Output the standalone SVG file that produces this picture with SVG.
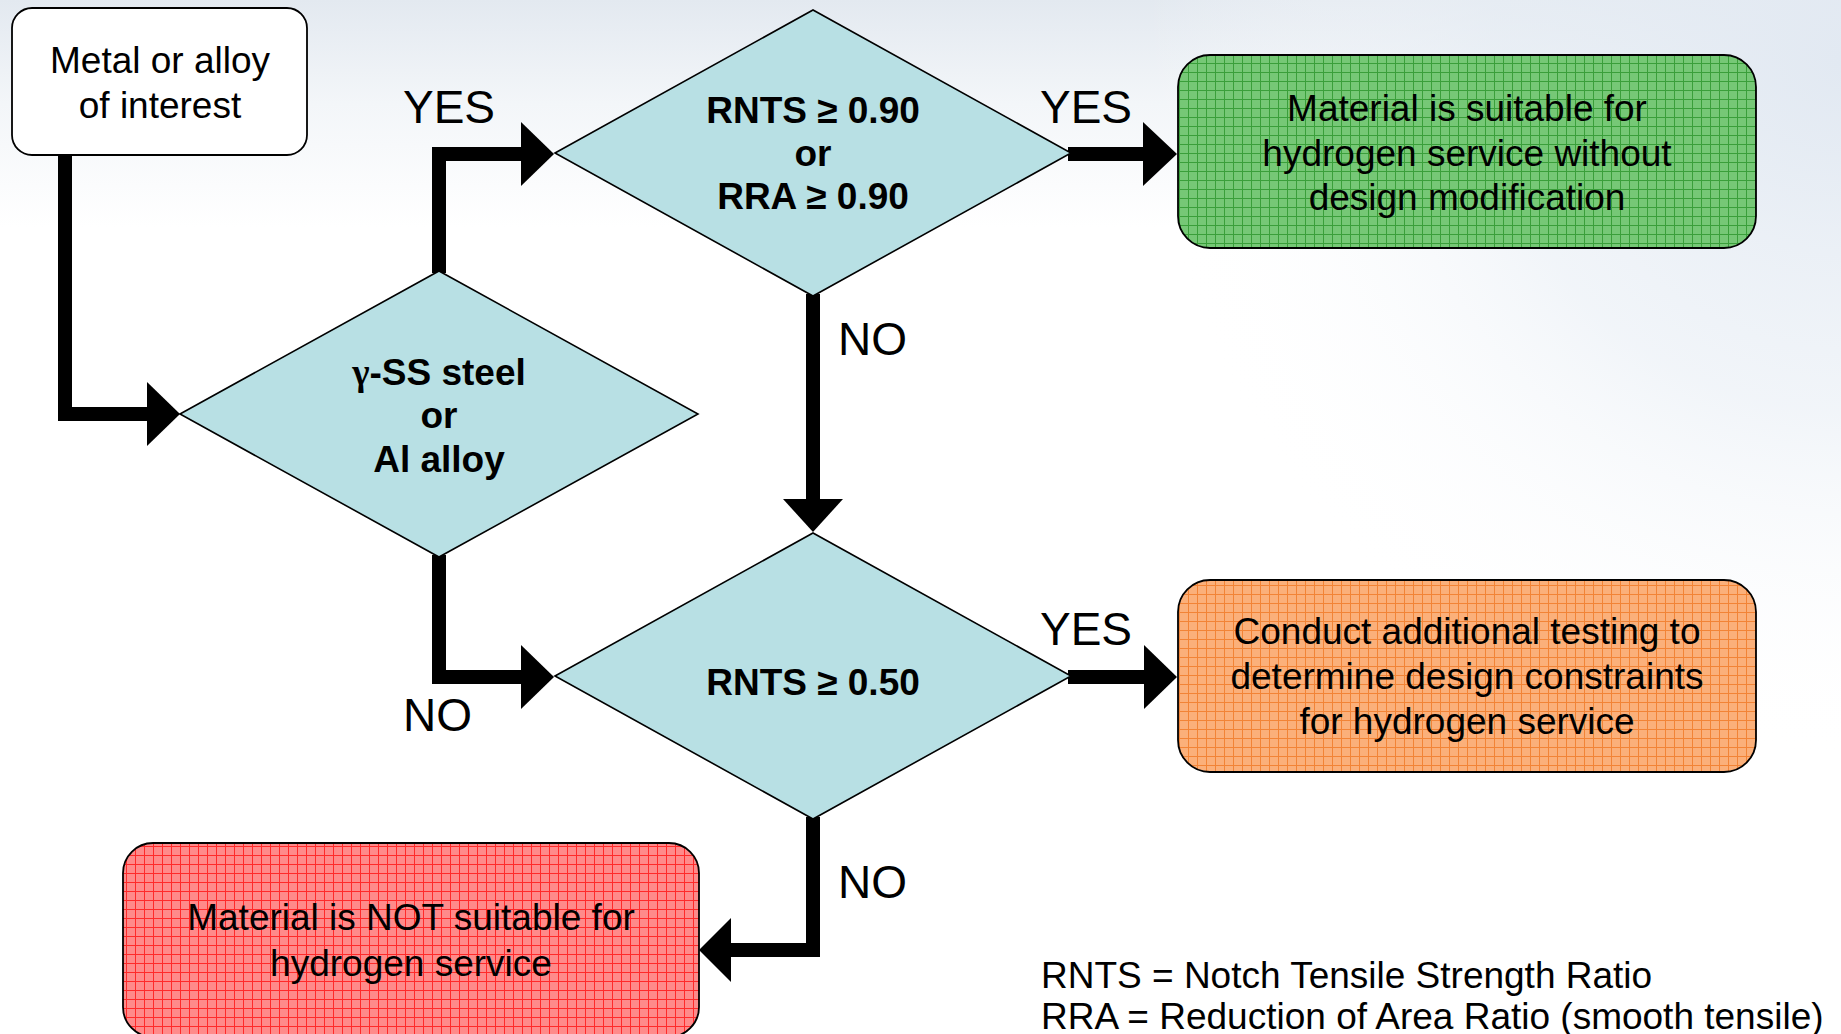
<svg xmlns="http://www.w3.org/2000/svg" width="1841" height="1034" viewBox="0 0 1841 1034">
<style>
.t{font-family:"Liberation Sans",Arial,sans-serif;font-size:37px;fill:#000;text-anchor:middle}
.b{font-weight:bold}
.lbl{font-family:"Liberation Sans",Arial,sans-serif;font-size:46px;fill:#000}
.leg{font-family:"Liberation Sans",Arial,sans-serif;font-size:37px;fill:#000}
.dia{fill:#b8e0e4;stroke:#000;stroke-width:1.6}
.box{stroke:#000;stroke-width:1.8}
.ln{fill:none;stroke:#000;stroke-width:14;stroke-linejoin:miter;stroke-linecap:butt}
.ah{fill:#000}
</style>
<defs>
<linearGradient id="bgV" x1="0" y1="0" x2="0" y2="1">
<stop offset="0" stop-color="#e3e9f0"/>
<stop offset="0.1" stop-color="#f3f6f9"/>
<stop offset="0.22" stop-color="#ffffff"/>
<stop offset="1" stop-color="#ffffff"/>
</linearGradient>
<radialGradient id="bgR" gradientUnits="userSpaceOnUse" cx="1841" cy="60" r="700">
<stop offset="0" stop-color="#e2e9f2" stop-opacity="1"/>
<stop offset="0.5" stop-color="#e8eef5" stop-opacity="0.6"/>
<stop offset="1" stop-color="#ffffff" stop-opacity="0"/>
</radialGradient>
<pattern id="gG" width="9" height="9" patternUnits="userSpaceOnUse">
<rect width="9" height="9" fill="#76c876"/>
<path d="M0 0.5H9M0.5 0V9" stroke="#3a9f3a" stroke-width="1"/>
</pattern>
<pattern id="gO" width="9" height="9" patternUnits="userSpaceOnUse">
<rect width="9" height="9" fill="#fbb07a"/>
<path d="M0 0.5H9M0.5 0V9" stroke="#f28436" stroke-width="1"/>
</pattern>
<pattern id="gR" width="9" height="9" patternUnits="userSpaceOnUse">
<rect width="9" height="9" fill="#ff8a8a"/>
<path d="M0 0.5H9M0.5 0V9" stroke="#ff2a2a" stroke-width="1"/>
</pattern>
</defs>
<rect width="1841" height="1034" fill="url(#bgV)"/>
<rect width="1841" height="1034" fill="url(#bgR)"/>

<g id="connectors">
<path class="ln" d="M65,155 V414 H150"/>
<polygon class="ah" points="147,382 180,414 147,446"/>
<path class="ln" d="M439,273 V154 H523"/>
<polygon class="ah" points="521,122 554,154 521,186"/>
<path class="ln" d="M1068,154 H1146"/>
<polygon class="ah" points="1143,122 1177,154 1143,186"/>
<path class="ln" d="M813,294 V502"/>
<polygon class="ah" points="783,499 813,532 843,499"/>
<path class="ln" d="M439,555 V677 H523"/>
<polygon class="ah" points="521,645 554,677 521,709"/>
<path class="ln" d="M1068,677 H1146"/>
<polygon class="ah" points="1144,645 1177,677 1144,709"/>
<path class="ln" d="M813,817 V950 H728"/>
<polygon class="ah" points="731,918 699,950 731,982"/>
<text class="lbl" x="403" y="123">YES</text>
<text class="lbl" x="1040" y="123">YES</text>
<text class="lbl" x="838" y="355">NO</text>
<text class="lbl" x="403" y="731">NO</text>
<text class="lbl" x="1040" y="645">YES</text>
<text class="lbl" x="838" y="898">NO</text>
</g>

<g id="start">
<rect class="box" x="12" y="8" width="295" height="147" rx="20" fill="#fff"/>
<text class="t" x="160" y="73">Metal or alloy</text>
<text class="t" x="160" y="118">of interest</text>
</g>

<g id="decision-material">
<polygon class="dia" points="180,414 439,271 698,414 439,557"/>
<text class="t b" x="439" y="385"><tspan font-family="'Liberation Serif',serif">γ</tspan>-SS steel</text>
<text class="t b" x="439" y="428">or</text>
<text class="t b" x="439" y="472">Al alloy</text>
</g>

<g id="decision-090">
<polygon class="dia" points="555,153 813,10 1071,153 813,296"/>
<text class="t b" x="813" y="123">RNTS ≥ 0.90</text>
<text class="t b" x="813" y="166">or</text>
<text class="t b" x="813" y="209">RRA ≥ 0.90</text>
</g>

<g id="decision-050">
<polygon class="dia" points="555,676 813,533 1071,676 813,819"/>
<text class="t b" x="813" y="695">RNTS ≥ 0.50</text>
</g>

<g id="suitable">
<rect class="box" x="1178" y="55" width="578" height="193" rx="32" fill="url(#gG)"/>
<text class="t" x="1467" y="121">Material is suitable for</text>
<text class="t" x="1467" y="166">hydrogen service without</text>
<text class="t" x="1467" y="210">design modification</text>
</g>

<g id="additional-testing">
<rect class="box" x="1178" y="580" width="578" height="192" rx="32" fill="url(#gO)"/>
<text class="t" x="1467" y="644">Conduct additional testing to</text>
<text class="t" x="1467" y="689">determine design constraints</text>
<text class="t" x="1467" y="734">for hydrogen service</text>
</g>

<g id="not-suitable">
<rect class="box" x="123" y="843" width="576" height="194" rx="30" fill="url(#gR)"/>
<text class="t" x="411" y="930">Material is NOT suitable for</text>
<text class="t" x="411" y="976">hydrogen service</text>
</g>

<g id="legend">
<text class="leg" x="1041" y="988">RNTS = Notch Tensile Strength Ratio</text>
<text class="leg" x="1041" y="1029">RRA = Reduction of Area Ratio (smooth tensile)</text>
</g>
</svg>
